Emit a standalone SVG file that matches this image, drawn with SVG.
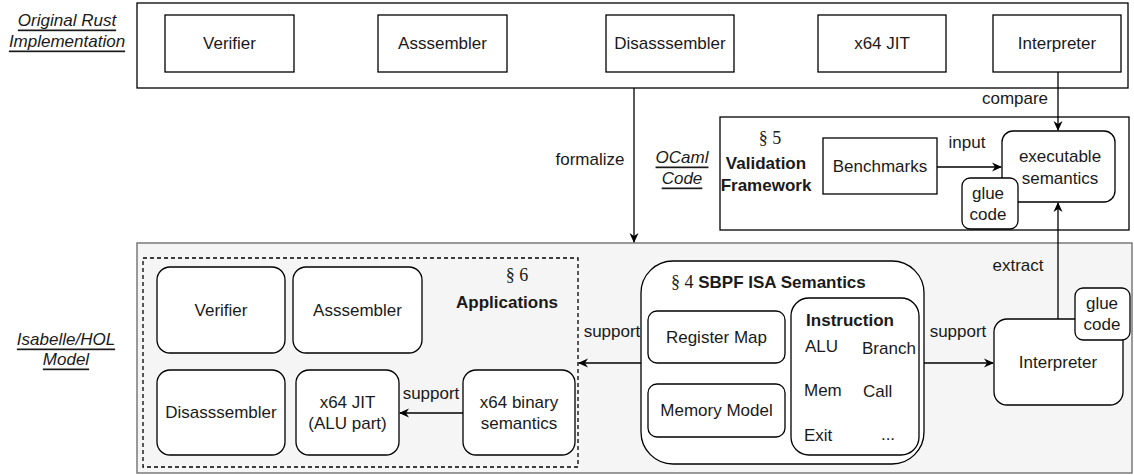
<svg xmlns="http://www.w3.org/2000/svg" width="1134" height="475" viewBox="0 0 1134 475">
<style>
text{font-family:"Liberation Sans",Arial,sans-serif;font-size:17px;fill:#1a1a1a}
.c{text-anchor:middle;dominant-baseline:central}
.l{dominant-baseline:central}
.b{font-weight:bold}
.it{font-style:italic;text-decoration:underline}
.sec{font-family:"Liberation Serif","Times New Roman",serif;font-size:18px}
.box{fill:#fff;stroke:#000;stroke-width:1.3}
.line{fill:none;stroke:#000;stroke-width:1.3}
</style>
<defs>
<marker id="ar" viewBox="0 0 10 10" refX="9" refY="5" markerWidth="10" markerHeight="10" markerUnits="userSpaceOnUse" orient="auto">
<path d="M0,0.5 L10,5 L0,9.5 L3,5 z" fill="#000"/>
</marker>
</defs>

<g id="side-labels">
<text class="c it" x="67" y="20">Original Rust</text>
<text class="c it" x="67" y="41">Implementation</text>
<text class="c it" x="66" y="339">Isabelle/HOL</text>
<text class="c it" x="66" y="359">Model</text>
<text class="c it" x="682" y="157">OCaml</text>
<text class="c it" x="682" y="178">Code</text>
</g>

<g id="rust-impl">
<rect class="box" x="137" y="3" width="991" height="85"/>
<g id="rust-verifier"><rect class="box" x="165" y="15" width="129" height="57"/><text class="c" x="229.5" y="43.5">Verifier</text></g>
<g id="rust-assembler"><rect class="box" x="378" y="15" width="129" height="57"/><text class="c" x="442.5" y="43.5">Asssembler</text></g>
<g id="rust-disassembler"><rect class="box" x="606" y="15" width="128" height="57"/><text class="c" x="670" y="43.5">Disasssembler</text></g>
<g id="rust-jit"><rect class="box" x="818" y="15" width="128" height="57"/><text class="c" x="882" y="43.5">x64 JIT</text></g>
<g id="rust-interpreter"><rect class="box" x="993" y="15" width="128" height="57"/><text class="c" x="1057" y="43.5">Interpreter</text></g>
</g>

<g id="ocaml">
<rect class="box" x="720" y="117" width="409" height="113"/>
<text class="c sec" x="770" y="138">§ 5</text>
<text class="c b" x="766" y="163">Validation</text>
<text class="c b" x="766" y="185">Framework</text>
<g id="benchmarks"><rect class="box" x="823" y="138" width="114" height="56"/><text class="c" x="880" y="166">Benchmarks</text></g>
<g id="exec-semantics"><rect class="box" x="1002" y="131" width="113" height="71" rx="11"/><text class="c" x="1060" y="156">executable</text><text class="c" x="1060" y="178">semantics</text></g>
<g id="glue-ocaml"><rect class="box" x="962" y="178" width="56" height="51" rx="8"/><text class="c" x="988" y="193">glue</text><text class="c" x="988" y="214">code</text></g>
</g>

<g id="isabelle">
<rect x="137" y="243" width="995" height="230" fill="#f5f5f5" stroke="#666" stroke-width="1.3"/>
<g id="applications">
<rect x="143" y="258" width="435" height="209" fill="none" stroke="#000" stroke-width="1.3" stroke-dasharray="4 3"/>
<text class="c sec" x="517" y="275">§ 6</text>
<text class="c b" x="507" y="302">Applications</text>
<g id="app-verifier"><rect class="box" x="157" y="267" width="128" height="86" rx="13"/><text class="c" x="221" y="310">Verifier</text></g>
<g id="app-assembler"><rect class="box" x="293" y="267" width="129" height="86" rx="13"/><text class="c" x="357.5" y="310">Asssembler</text></g>
<g id="app-disassembler"><rect class="box" x="157" y="370" width="128" height="85" rx="13"/><text class="c" x="221" y="412.5">Disasssembler</text></g>
<g id="app-jit"><rect class="box" x="296" y="370" width="103" height="85" rx="13"/><text class="c" x="347.5" y="402">x64 JIT</text><text class="c" x="347.5" y="423">(ALU part)</text></g>
<g id="app-x64sem"><rect class="box" x="463" y="370" width="112" height="85" rx="13"/><text class="c" x="519" y="402">x64 binary</text><text class="c" x="519" y="423">semantics</text></g>
</g>
<g id="sbpf">
<rect class="box" x="641" y="261" width="283" height="203" rx="32"/>
<text class="l" x="671" y="282"><tspan class="sec">§ 4</tspan><tspan class="b"> SBPF ISA Semantics</tspan></text>
<g id="register-map"><rect class="box" x="648" y="311" width="137" height="52" rx="9"/><text class="c" x="716.5" y="337">Register Map</text></g>
<g id="memory-model"><rect class="box" x="648" y="384" width="137" height="53" rx="9"/><text class="c" x="716.5" y="410.5">Memory Model</text></g>
<g id="instruction">
<rect class="box" x="791" y="298" width="128" height="157" rx="18"/>
<text class="c b" x="850" y="320">Instruction</text>
<text class="l" x="805" y="346">ALU</text>
<text class="l" x="862" y="348">Branch</text>
<text class="l" x="804" y="390">Mem</text>
<text class="l" x="863" y="391">Call</text>
<text class="l" x="804" y="435">Exit</text>
<text class="c" x="888" y="434">...</text>
</g>
</g>
<g id="isa-interpreter"><rect class="box" x="994" y="319" width="129" height="86" rx="13"/><text class="c" x="1058" y="362">Interpreter</text></g>
<g id="glue-isabelle"><rect class="box" x="1075" y="288" width="55" height="52" rx="8"/><text class="c" x="1102" y="303">glue</text><text class="c" x="1102" y="324">code</text></g>
</g>

<g id="connectors">
<line class="line" x1="634" y1="88" x2="634" y2="242" marker-end="url(#ar)"/>
<text class="c" x="590" y="159">formalize</text>
<line class="line" x1="1058" y1="72" x2="1058" y2="130" marker-end="url(#ar)"/>
<text class="c" x="1015" y="98">compare</text>
<line class="line" x1="937" y1="167" x2="1001" y2="167" marker-end="url(#ar)"/>
<text class="c" x="967" y="142">input</text>
<line class="line" x1="1058" y1="319" x2="1058" y2="203" marker-end="url(#ar)"/>
<text class="c" x="1018" y="265">extract</text>
<line class="line" x1="924" y1="363" x2="993" y2="363" marker-end="url(#ar)"/>
<text class="c" x="958" y="331">support</text>
<line class="line" x1="641" y1="363" x2="579" y2="363" marker-end="url(#ar)"/>
<text class="c" x="612" y="331">support</text>
<line class="line" x1="463" y1="413" x2="400" y2="413" marker-end="url(#ar)"/>
<text class="c" x="431" y="393">support</text>
</g>
</svg>
